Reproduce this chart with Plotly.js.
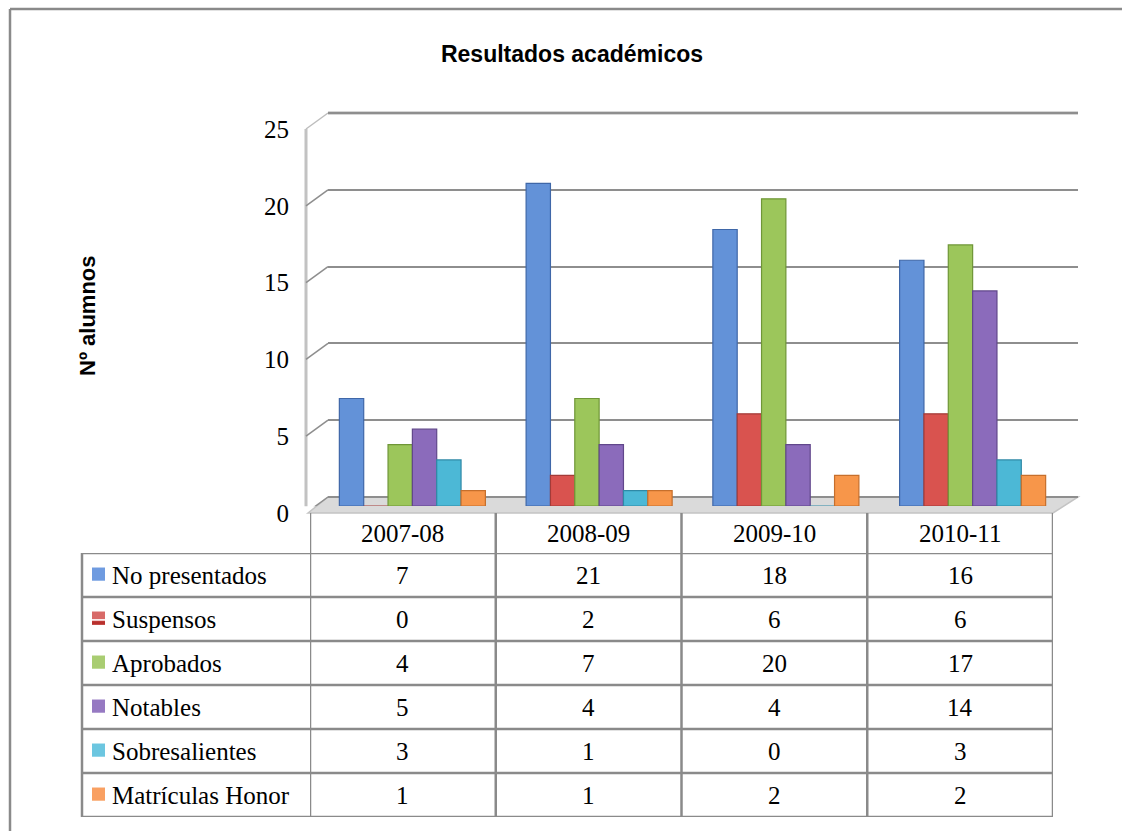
<!DOCTYPE html>
<html>
<head>
<meta charset="utf-8">
<script src="https://cdn.plot.ly/plotly-3.0.1.min.js"></script>
<style>html,body{margin:0;padding:0;background:#fff;}#chart{width:1122px;height:831px;}</style>
</head>
<body>
<div id="chart"></div>
<script>
// ---- data ----
const categories = ["2007-08", "2008-09", "2009-10", "2010-11"];
const seriesNames = ["No presentados", "Suspensos", "Aprobados", "Notables", "Sobresalientes", "Matrículas Honor"];
const noPresentados = [7, 21, 18, 16];
const suspensos = [0, 2, 6, 6];
const aprobados = [4, 7, 20, 17];
const notables = [5, 4, 4, 14];
const sobresalientes = [3, 1, 0, 3];
const matriculasHonor = [1, 1, 2, 2];
const yTicks = [0, 5, 10, 15, 20, 25];
const chartTitle = "Resultados académicos";
const yTitle = "Nº alumnos";

// ---- styles ----
const seriesValues = [noPresentados, suspensos, aprobados, notables, sobresalientes, matriculasHonor];
const fills = ["#6392d8", "#d9534f", "#9cc65b", "#8b6bbb", "#4cb8d6", "#f7964a"];
const edges = ["#3f67a8", "#a33b38", "#6f9637", "#61478b", "#2f89a6", "#c66f2c"];
const keyFills = ["#6f9be0", "#d86a68", "#a9cd72", "#9679c2", "#6cc6e0", "#f9a062"];

const W = 1122, H = 831;
const px = x => x / W;
const py = y => 1 - y / H;
const unit = 15.36;            // pixels per value unit
const shiftUnits = 16 / unit;  // front-to-back vertical offset
const pad = 0.6;               // range padding for the back wall axis
const gridColor = "#8e8e8e";
const tableLine = "#8a8a8a";
const serif = "Liberation Serif";
const sans = "Liberation Sans";

const traces = [];
// dummy trace to create the back-wall subplot (x/y)
traces.push({type: "scatter", x: [null], y: [null], xaxis: "x", yaxis: "y", hoverinfo: "skip", showlegend: false});
// bars on x2/y2
seriesNames.forEach((name, s) => {
  traces.push({
    type: "bar", name: name, x: categories, y: seriesValues[s],
    xaxis: "x2", yaxis: "y2",
    marker: {color: fills[s], line: {color: edges[s], width: 1.2}},
    hoverinfo: "x+y+name", showlegend: false
  });
});
// dummy trace for table subplot (x3/y3)
traces.push({type: "scatter", mode: "markers", x: [categories[0]], y: [seriesNames[0]], xaxis: "x3", yaxis: "y3",
  marker: {opacity: 0}, hoverinfo: "skip", showlegend: false});

const shapes = [];
// floor
shapes.push({type: "path", xref: "paper", yref: "paper", layer: "below",
  path: `M ${px(308)} ${py(513)} L ${px(328)} ${py(497)} L ${px(1078)} ${py(497)} L ${px(1053)} ${py(513)} Z`,
  fillcolor: "#dadada", line: {color: "#c4c4c4", width: 1.5}});
// left wall edge
shapes.push({type: "line", xref: "paper", yref: "y", layer: "below",
  x0: px(306), x1: px(306), y0: -shiftUnits, y1: yTicks[yTicks.length - 1] - shiftUnits,
  line: {color: "#c2c2c2", width: 3}});
// diagonals from front to back for each gridline
yTicks.forEach(v => {
  shapes.push({type: "line", xref: "paper", yref: "y", layer: "below",
    x0: px(306), x1: px(328), y0: v - shiftUnits, y1: v,
    line: {color: v === 25 ? "#bdbdbd" : gridColor, width: 1.5}});
});
// lighter, thicker top gridline of the back wall
shapes.push({type: "line", xref: "paper", yref: "y", layer: "below",
  x0: px(328), x1: px(1078), y0: yTicks[yTicks.length - 1], y1: yTicks[yTicks.length - 1],
  line: {color: "#c8c8c8", width: 3.5}});
// table lines
const nRows = seriesNames.length;
for (let k = 0; k <= nRows; k++) {
  shapes.push({type: "line", xref: "paper", yref: "y3", x0: px(82), x1: px(1053), y0: k - 0.5, y1: k - 0.5,
    line: {color: tableLine, width: 2.5}});
}
shapes.push({type: "line", xref: "paper", yref: "y3", x0: px(82), x1: px(82), y0: -0.5, y1: nRows - 0.5,
  line: {color: tableLine, width: 2.5}});
for (let i = 0; i <= categories.length; i++) {
  shapes.push({type: "line", xref: "x3", yref: "paper", x0: i - 0.5, x1: i - 0.5, y0: py(513), y1: py(817),
    line: {color: tableLine, width: 2.5}});
}
// legend keys
seriesNames.forEach((name, k) => {
  shapes.push({type: "rect", xref: "paper", yref: "y3", x0: px(92), x1: px(105), y0: k - 0.17, y1: k + 0.13,
    fillcolor: keyFills[k], line: {width: 0}});
  if (k === 1) {
    shapes.push({type: "line", xref: "paper", yref: "y3", x0: px(92), x1: px(105), y0: k + 0.02, y1: k + 0.02,
      line: {color: "#ffffff", width: 1.5}});
    shapes.push({type: "rect", xref: "paper", yref: "y3", x0: px(92), x1: px(105), y0: k + 0.05, y1: k + 0.13,
      fillcolor: "#b8302d", line: {width: 0}});
  }
});
// outer border
shapes.push({type: "line", xref: "paper", yref: "paper", x0: px(10), x1: px(10), y0: py(9), y1: 0, line: {color: "#8a8a8a", width: 2.5}});
shapes.push({type: "line", xref: "paper", yref: "paper", x0: px(10), x1: 1, y0: py(9), y1: py(9), line: {color: "#8a8a8a", width: 2.5}});

const annotations = [];
// header
categories.forEach(c => {
  annotations.push({xref: "x3", yref: "paper", x: c, y: py(533), text: c, showarrow: false,
    xanchor: "center", yanchor: "middle", font: {family: serif, size: 25, color: "#000"}});
});
// rows
seriesNames.forEach((name, k) => {
  annotations.push({xref: "paper", yref: "y3", x: px(110), y: name, text: name, showarrow: false,
    xanchor: "left", yanchor: "middle", font: {family: serif, size: 25, color: "#000"}});
  categories.forEach((c, i) => {
    annotations.push({xref: "x3", yref: "y3", x: c, y: name, text: String(seriesValues[k][i]), showarrow: false,
      xanchor: "center", yanchor: "middle", font: {family: serif, size: 25, color: "#000"}});
  });
});
// y axis title
annotations.push({xref: "paper", yref: "paper", x: px(88), y: py(316), text: yTitle, textangle: -90, showarrow: false,
  xanchor: "center", yanchor: "middle", font: {family: sans, size: 22, color: "#000", weight: "bold"}});

const layout = {
  width: W, height: H,
  margin: {l: 0, r: 0, t: 0, b: 0},
  font: {family: serif, size: 25, color: "#000"},
  paper_bgcolor: "#ffffff", plot_bgcolor: "rgba(0,0,0,0)",
  title: {text: "<b>" + chartTitle + "</b>", x: px(572), y: py(54), xref: "paper", yref: "paper",
    xanchor: "center", yanchor: "middle", font: {family: sans, size: 23, color: "#000"}},
  showlegend: false,
  barmode: "group", bargap: 0.218, bargroupgap: 0,
  // back wall (gridlines + tick labels shifted to the front plane)
  xaxis: {domain: [px(328), px(1078)], range: [0, 1], showgrid: false, zeroline: false, showticklabels: false, showline: false, fixedrange: true},
  yaxis: {domain: [py(497 + pad * unit), py(113 - pad * unit)], range: [-pad, 25 + pad], anchor: "x",
    tickvals: yTicks, ticktext: yTicks.map(String), showgrid: true, gridcolor: gridColor, gridwidth: 2,
    zeroline: false, showline: false, ticks: "", ticklabelshift: 16, ticklabelstandoff: 38,
    tickfont: {family: serif, size: 25, color: "#000"}, fixedrange: true},
  // bar plane
  xaxis2: {domain: [px(319), px(1066)], type: "category", categoryarray: categories, range: [-0.5, 3.5], anchor: "y2",
    showgrid: false, zeroline: false, showticklabels: false, showline: false, fixedrange: true},
  yaxis2: {domain: [py(506), py(113)], range: [0, (506 - 113) / unit], anchor: "x2",
    showgrid: false, zeroline: false, showticklabels: false, showline: false, fixedrange: true},
  // table grid
  xaxis3: {domain: [px(310), px(1053)], type: "category", categoryarray: categories, range: [-0.5, 3.5], anchor: "y3",
    showgrid: false, zeroline: false, showticklabels: false, showline: false, fixedrange: true},
  yaxis3: {domain: [py(817), py(553)], type: "category", categoryarray: seriesNames, range: [nRows - 0.5, -0.5], anchor: "x3",
    showgrid: false, zeroline: false, showticklabels: false, showline: false, fixedrange: true},
  shapes: shapes,
  annotations: annotations
};

Plotly.newPlot("chart", traces, layout, {displayModeBar: false, staticPlot: true});
</script>
</body>
</html>
